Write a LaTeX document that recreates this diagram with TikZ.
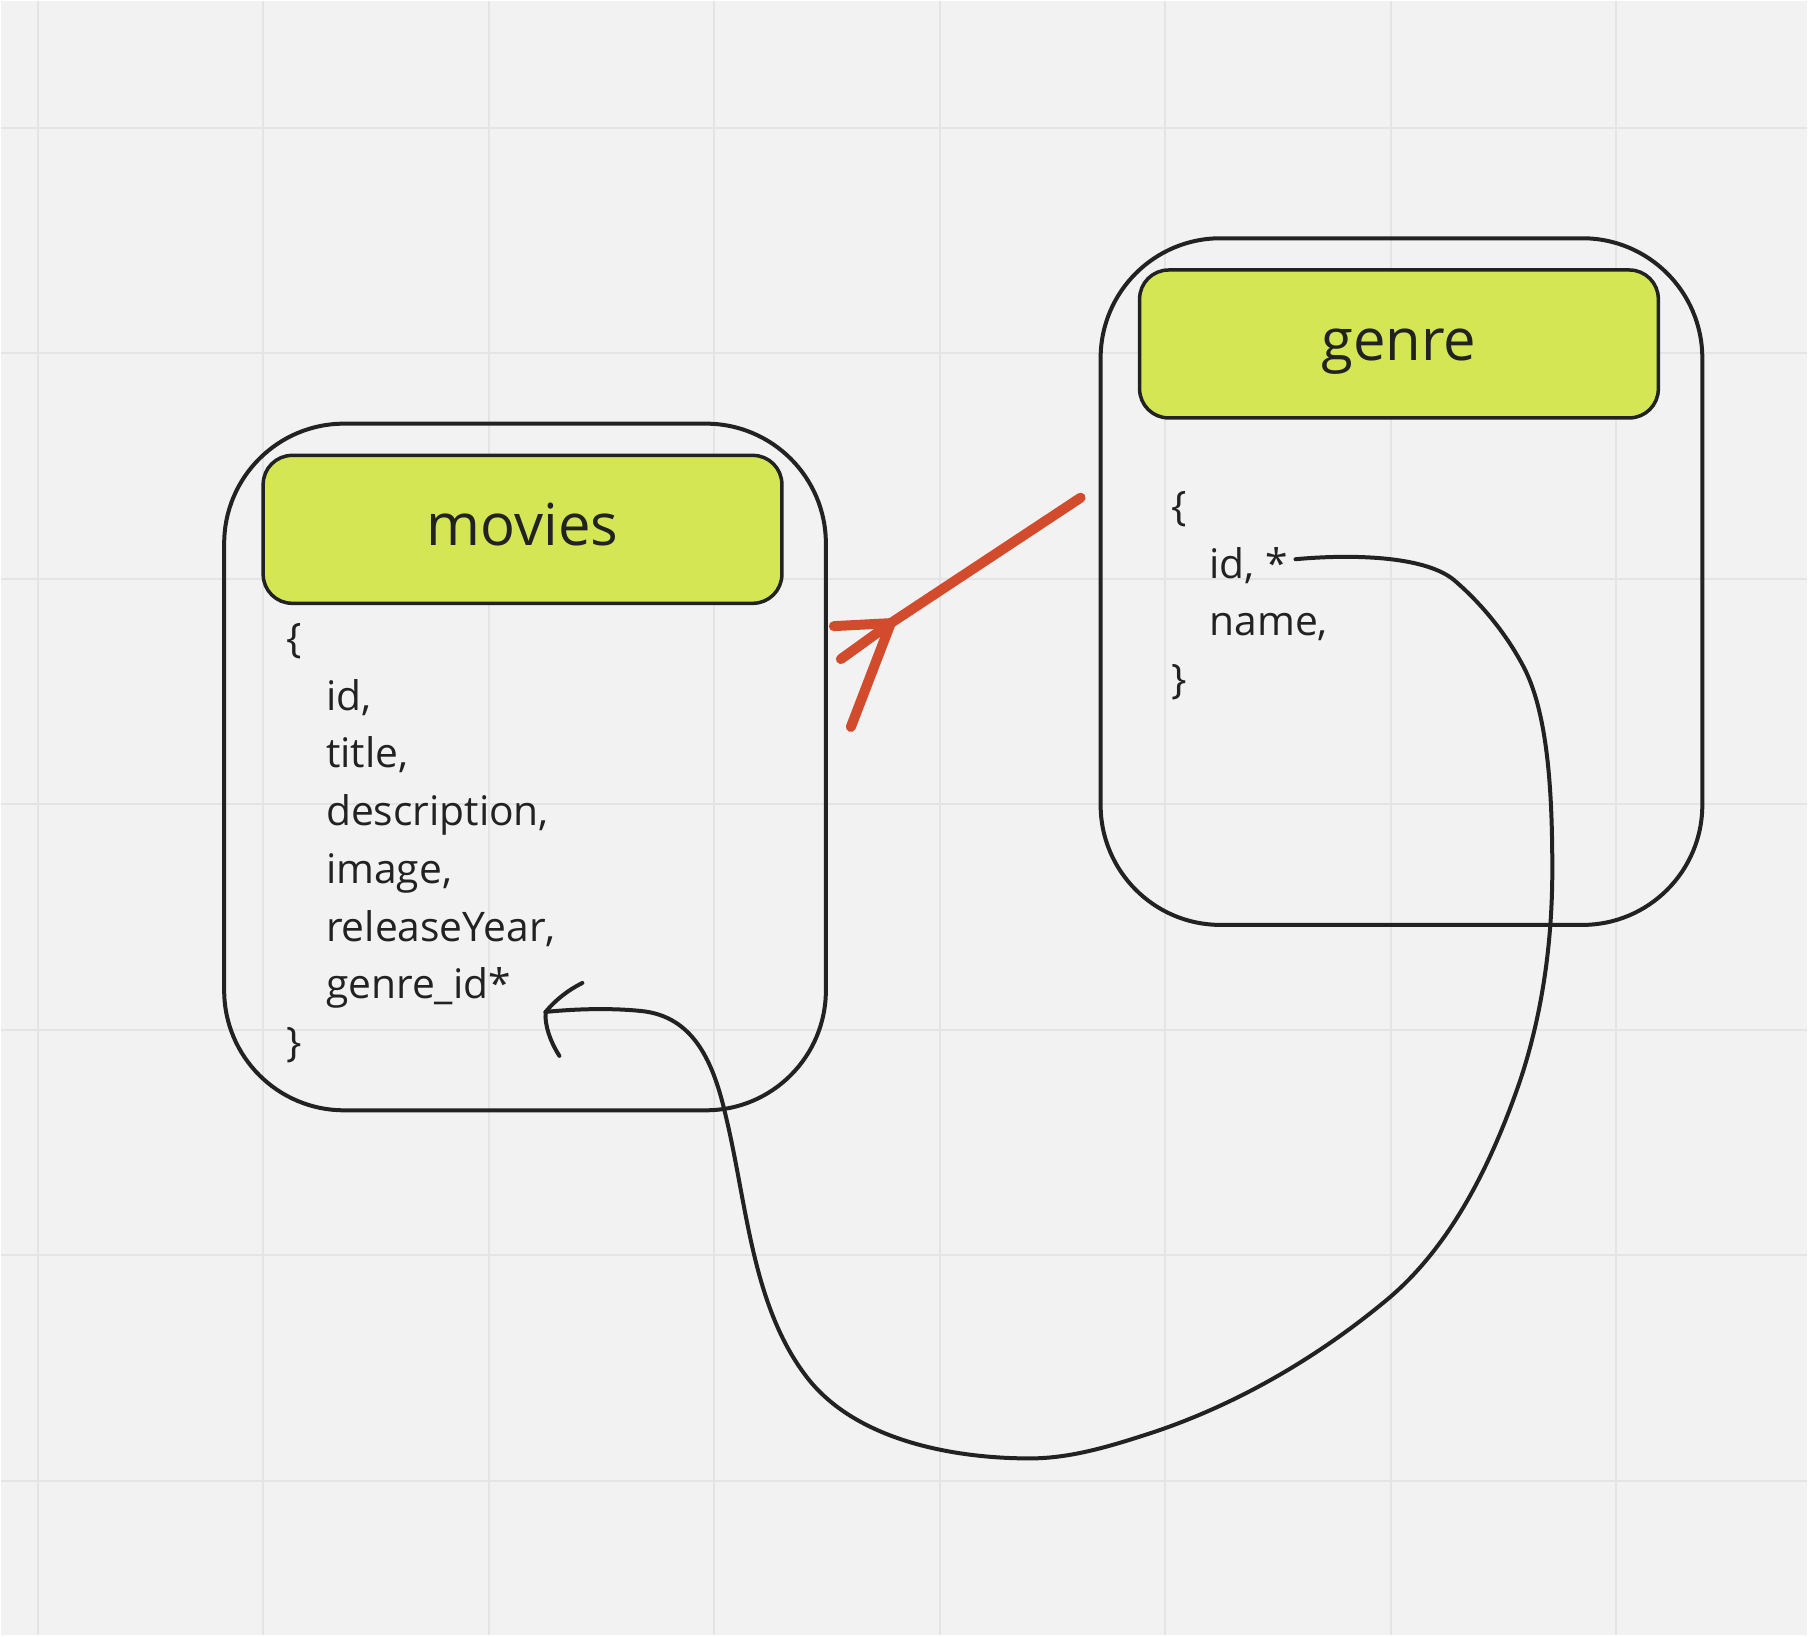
\documentclass[tikz,border=0pt]{standalone}
\usepackage{fontspec}
\setmainfont{Open Sans}
\usetikzlibrary{positioning}
\definecolor{bg}{RGB}{242,242,242}
\definecolor{gridgray}{RGB}{228,228,228}
\definecolor{lime}{RGB}{213,230,85}
\definecolor{ink}{RGB}{34,34,34}
\definecolor{red}{RGB}{211,75,45}

\begin{document}
\begin{tikzpicture}[x=0.01cm, y=-0.01cm,
		tablebox/.style={draw=ink, line width=0.04cm, rounded corners=1.2cm, minimum width=6.02cm, minimum height=6.87cm},
		headbox/.style={draw=ink, fill=lime, text=ink, line width=0.035cm, rounded corners=0.29cm, minimum width=5.19cm, minimum height=1.48cm, xshift=-0.025cm, text height=0.5cm, text depth=0.17cm, font=\fontsize{16.5}{20}\selectfont},
		field/.style={anchor=base west, inner sep=0pt, text height=0.3cm, text depth=0.1cm, text=ink, font=\fontsize{11.6}{14}\selectfont},
		link/.style={draw=ink, line width=0.04cm, line cap=round},
		relline/.style={draw=red, line width=0.1cm, line cap=round}]
			% Background and grid
			\fill[bg] (0,0) rectangle (1808,1636);
			\foreach \gx in {0,...,7}
				\draw[gridgray, line width=0.02cm] ({36.9+225.7*\gx},0) -- ++(0,1636);
			\foreach \gy in {0,...,6}
				\draw[gridgray, line width=0.02cm] (0,{126.8+225.8*\gy}) -- ++(1808,0);

			% Movies table
			\node[tablebox] (movies) at (524.6,766.8) {};
			\node[headbox, below=0.32cm of movies.north] (mhead) {movies};
			\node[field] (mopen) at ([shift={(24,47.5)}]mhead.south west) {\{};
			\foreach \fname [count=\i] in {{id,},{title,},{description,},{image,},{releaseYear,},{genre\_id*}}
				\node[field] (mf\i) at ([shift={(64,{105.3+57.8*(\i-1)})}]mhead.south west) {\fname};
			\node[field] (mclose) at ([shift={(24,452)}]mhead.south west) {\}};

			% Genre table
			\node[tablebox] (genre) at (1402,581.2) {};
			\node[headbox, below=0.32cm of genre.north] (ghead) {genre};
			\node[field] (gopen) at ([shift={(33,101)}]ghead.south west) {\{};
			\node[field] (gid) at ([shift={(71,158.7)}]ghead.south west) {id, *};
			\node[field] (gname) at ([shift={(71,216.4)}]ghead.south west) {name,};
			\node[field] (gclose) at ([shift={(33,274)}]ghead.south west) {\}};

			% Relation arrow
			\coordinate (relstart) at ([shift={(-18,-84)}]genre.west);
			\coordinate (reltip) at ([shift={(63,-144)}]movies.east);
			\draw[relline] (relstart) -- (reltip);
			\draw[relline] (reltip) -- ++(-57,3);
			\draw[relline] (reltip) -- ++(-50,36);
			\draw[relline] (reltip) -- ++(-40,104);

			% Foreign key link
			\coordinate (fktip) at ([shift={(34,23)}]mf6.east);
			\draw[link] ([shift={(7,-9)}]gid.east) .. controls (1360,553) and (1428,557) .. (1455,580)
				.. controls (1483,604) and (1508,635) .. (1525,668)
				.. controls (1550,717) and (1553,802) .. (1553,870)
				.. controls (1553,942) and (1543,1015) .. (1520,1083)
				.. controls (1492,1164) and (1451,1249) .. (1384,1303)
				.. controls (1316,1359) and (1237,1405) .. (1153,1433)
				.. controls (1113,1446) and (1072,1459) .. (1030,1459)
				.. controls (951,1459) and (855,1440) .. (807,1378)
				.. controls (752,1307) and (747,1206) .. (726,1118)
				.. controls (714,1065) and (695,1016) .. (640,1011)
				.. controls (610,1008) and (575,1009) .. (fktip);
			\draw[link] (fktip) .. controls (555,1000) and (568,990) .. (582,983);
			\draw[link] (fktip) .. controls (544,1025) and (550,1042) .. (559,1056);
\end{tikzpicture}
\end{document}
